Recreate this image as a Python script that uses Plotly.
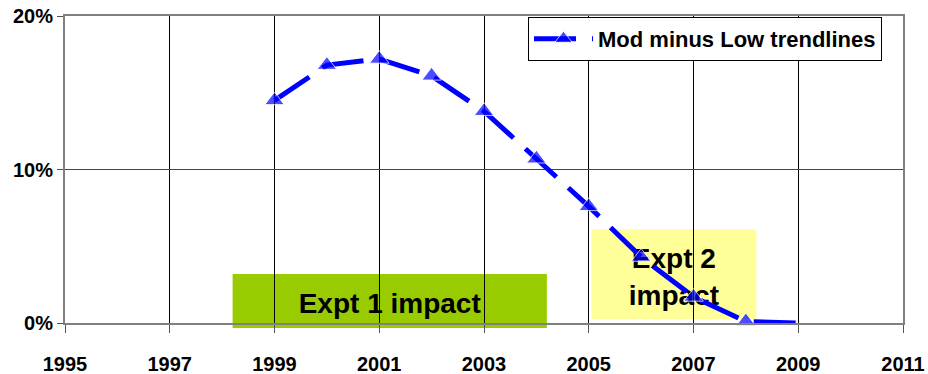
import plotly.graph_objects as go

# Mod minus Low trendline difference, percent
years = [1999, 2000, 2001, 2002, 2003, 2004, 2005, 2006, 2007, 2008, 2009]
mod_minus_low = [14.5, 16.8, 17.2, 16.1, 13.8, 10.7, 7.6, 4.3, 1.7, 0.1, 0.0]
series_name = "Mod minus Low trendlines"

x_ticks = list(range(1995, 2012, 2))
y_ticks = [0, 10, 20]
y_tick_labels = ["0%", "10%", "20%"]
Y_MIN, Y_MAX = 0, 20

# Experiment impact windows: (x0, x1, y0, y1 in percent, label, fill)
impact_boxes = [
    (1998.2, 2004.2, -0.33, 3.2, "Expt 1 impact", "#99CC00"),
    (2005.05, 2008.2, 0.26, 6.1, "Expt 2<br>impact", "#FFFF99"),
]

FONT = "Liberation Sans, Arial, sans-serif"

marker_sizes = [17] * (len(years) - 1) + [0]

fig = go.Figure()
fig.add_trace(go.Scatter(
    x=years, y=mod_minus_low, name=series_name,
    mode="lines+markers",
    line=dict(color="#0000FF", width=5, dash="42px,16px"),
    marker=dict(symbol="triangle-up", size=marker_sizes, color="#0000FF"),
    cliponaxis=False,
    showlegend=True,
))


def to_paper(v):
    # percent value -> fraction of the y-axis span (lets the box overhang the axis)
    return (v - Y_MIN) / (Y_MAX - Y_MIN)


for x0, x1, y0, y1, label, fill in impact_boxes:
    fig.add_shape(
        type="rect", xref="x", yref="paper",
        x0=x0, x1=x1, y0=to_paper(y0), y1=to_paper(y1),
        fillcolor=fill, line=dict(width=0), layer="below",
        label=dict(text=label, font=dict(family=FONT, size=28, color="black", weight="bold"),
                   textposition="middle center"),
    )

fig.update_layout(
    width=928, height=374,
    margin=dict(l=65, r=25, t=16, b=51),
    paper_bgcolor="white", plot_bgcolor="white",
    font=dict(family=FONT, color="black"),
    legend=dict(
        x=(528 - 65) / 838, y=1 - (17 - 16) / 307, xanchor="left", yanchor="top",
        bgcolor="white", bordercolor="black", borderwidth=1,
        font=dict(family=FONT, size=22, weight="bold"),
        itemwidth=59,
    ),
)

fig.update_xaxes(
    range=[1995, 2011], tickvals=x_ticks,
    showgrid=True, gridcolor="black", gridwidth=1,
    showline=True, linecolor="#808080", linewidth=2, mirror=True,
    ticks="outside", ticklen=8, tickcolor="#555555",
    tickfont=dict(family=FONT, size=20, weight="bold"),
    ticklabelstandoff=14,
    zeroline=False, automargin=False,
)
fig.update_yaxes(
    range=[Y_MIN, Y_MAX], tickvals=y_ticks, ticktext=y_tick_labels,
    showgrid=True, gridcolor="#444444", gridwidth=1,
    showline=True, linecolor="#808080", linewidth=2, mirror=True,
    ticks="outside", ticklen=6, tickcolor="#555555",
    tickfont=dict(family=FONT, size=20, weight="bold"),
    zeroline=False, automargin=False,
)

fig.write_html("out.html")
